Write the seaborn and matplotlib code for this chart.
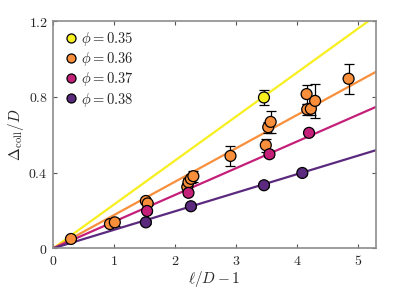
import numpy as np
import pandas as pd
import matplotlib
matplotlib.use("Agg")
import matplotlib.pyplot as plt
import seaborn as sns
from matplotlib.lines import Line2D

# ---- data ----
phi_labels = ["0.35", "0.36", "0.37", "0.38"]
colors = ["#f7ef1e", "#f98e3b", "#c41f79", "#5b2a7f"]
fit_slopes = [0.232, 0.176, 0.141, 0.0978]

x_035 = [3.46]
y_035 = [0.797]
e_035 = [0.04]

x_036 = [0.29, 0.93, 1.01, 1.52, 1.55, 2.20, 2.22, 2.26, 2.30, 2.91, 3.49, 3.53, 3.57, 4.16, 4.17, 4.23, 4.30, 4.85]
y_036 = [0.049, 0.128, 0.137, 0.250, 0.237, 0.324, 0.349, 0.367, 0.381, 0.488, 0.545, 0.640, 0.668, 0.815, 0.734, 0.737, 0.779, 0.896]
e_036 = [0.01, 0.01, 0.02, 0.01, 0.01, 0.02, 0.02, 0.02, 0.03, 0.055, 0.035, 0.03, 0.057, 0.05, 0.03, 0.03, 0.09, 0.08]

x_037 = [1.54, 2.22, 3.55, 4.20]
y_037 = [0.197, 0.293, 0.497, 0.610]
e_037 = [0.01, 0.01, 0.015, 0.01]

x_038 = [1.52, 2.26, 3.46, 4.09]
y_038 = [0.137, 0.222, 0.333, 0.398]
e_038 = [0.01, 0.01, 0.01, 0.01]

x_ticks = [0, 1, 2, 3, 4, 5]
y_ticks = [0, 0.4, 0.8, 1.2]
x_max = 5.3
y_max = 1.2

xs = [x_035, x_036, x_037, x_038]
ys = [y_035, y_036, y_037, y_038]
es = [e_035, e_036, e_037, e_038]

rows = []
for lab, xx, yy, ee in zip(phi_labels, xs, ys, es):
    for a, b, c in zip(xx, yy, ee):
        rows.append({"phi": lab, "x": a, "y": b, "err": c})
df = pd.DataFrame(rows)

fit_rows = []
for lab, s in zip(phi_labels, fit_slopes):
    for xv in [0.0, x_max]:
        fit_rows.append({"phi": lab, "x": xv, "y": s * xv})
fit_df = pd.DataFrame(fit_rows)

# ---- plot ----
sns.set_style("white")
plt.rcParams["mathtext.fontset"] = "cm"
plt.rcParams["font.family"] = ["DejaVu Serif"]

fig = plt.figure(figsize=(4.15, 2.89), dpi=100)
ax = fig.add_axes([0.1285, 0.141, 0.7775, 0.7855])

palette = dict(zip(phi_labels, colors))
sns.lineplot(data=fit_df, x="x", y="y", hue="phi", palette=palette,
             lw=1.6, legend=False, ax=ax, zorder=1)

for lab in phi_labels:
    sub = df[df.phi == lab]
    ax.errorbar(sub.x, sub.y, yerr=sub.err, fmt="none", ecolor="black",
                elinewidth=0.9, capsize=3.3, capthick=0.9, zorder=2)

sns.scatterplot(data=df, x="x", y="y", hue="phi", palette=palette,
                s=62, edgecolor="black", linewidth=0.9, legend=False,
                ax=ax, zorder=3)

ax.set_xlim(0, x_max)
ax.set_ylim(0, y_max)
ax.set_xticks(x_ticks)
ax.set_yticks(y_ticks)
ax.set_xticklabels([f"${t:g}$" for t in x_ticks], fontsize=10)
ax.set_yticklabels([f"${t:g}$" for t in y_ticks], fontsize=10)
ax.tick_params(direction="in", length=3, width=0.8, color="#555555",
               top=True, right=True, bottom=True, left=True, pad=4)
for sp in ax.spines.values():
    sp.set_color("#8c8c8c")
    sp.set_linewidth(1.2)

ax.set_xlabel(r"$\ell/D-1$", fontsize=11, labelpad=1)
ax.set_ylabel(r"$\Delta_{\rm coll}/D$", fontsize=11, labelpad=2)

handles = [Line2D([], [], ls="none", marker="o", markersize=6.5,
                  markerfacecolor=c, markeredgecolor="black", markeredgewidth=0.9)
           for c in colors]
labels = [rf"$\phi = {p}$" for p in phi_labels]
ax.legend(handles, labels, loc="upper left", frameon=False, fontsize=10.5,
          handletextpad=0.1, labelspacing=0.15, borderaxespad=0.3,
          handlelength=1.2, borderpad=0.3)

fig.savefig("out.png", dpi=100)
